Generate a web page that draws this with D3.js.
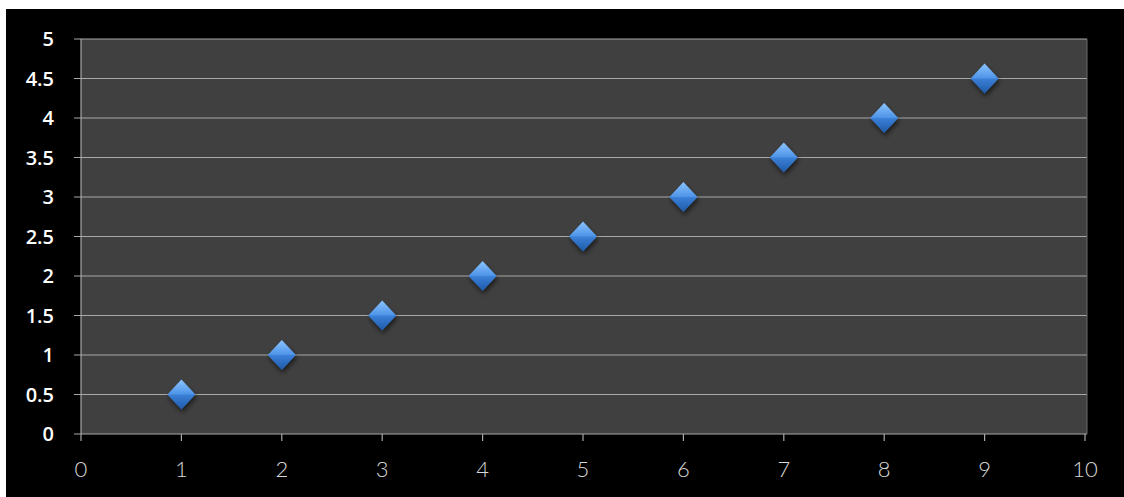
<!DOCTYPE html>
<html><head><meta charset="utf-8">
<script src="https://cdn.jsdelivr.net/npm/d3@7"></script>
<style>body{margin:0;background:#fff;}svg{display:block;}</style>
</head><body>
<svg id="c" width="1124" height="497"></svg>
<script>
const xValues = [1,2,3,4,5,6,7,8,9];
const yValues = [0.5,1,1.5,2,2.5,3,3.5,4,4.5];
const xTicks = [0,1,2,3,4,5,6,7,8,9,10];
const yTicks = [0,0.5,1,1.5,2,2.5,3,3.5,4,4.5,5];

const svg = d3.select("#c");
svg.append("rect").attr("x",6).attr("y",9).attr("width",1118).attr("height",488).attr("fill","#000");

const pL=81, pR=1085, pT=39, pB=434;
const x = d3.scaleLinear().domain([0,10]).range([pL,pR]);
const y = d3.scaleLinear().domain([0,5]).range([pB,pT]);

const defs = svg.append("defs");
const g1 = defs.append("linearGradient").attr("id","dg").attr("x1",0).attr("y1",0).attr("x2",0).attr("y2",1);
g1.append("stop").attr("offset","0%").attr("stop-color","#8cc4ff");
g1.append("stop").attr("offset","48%").attr("stop-color","#4f95e8");
g1.append("stop").attr("offset","52%").attr("stop-color","#3a7fd6");
g1.append("stop").attr("offset","100%").attr("stop-color","#1f5aa8");
const f = defs.append("filter").attr("id","sh").attr("x","-50%").attr("y","-50%").attr("width","200%").attr("height","200%");
f.append("feGaussianBlur").attr("in","SourceAlpha").attr("stdDeviation",2.5).attr("result","b");
f.append("feOffset").attr("in","b").attr("dx",1).attr("dy",3).attr("result","o");
f.append("feComponentTransfer").attr("in","o").attr("result","o2").append("feFuncA").attr("type","linear").attr("slope",0.6);
const m = f.append("feMerge"); m.append("feMergeNode").attr("in","o2"); m.append("feMergeNode").attr("in","SourceGraphic");

svg.append("rect").attr("x",pL).attr("y",pT).attr("width",pR-pL+2).attr("height",pB-pT).attr("fill","#404040");

svg.append("g").selectAll("line").data(yTicks).join("line")
  .attr("x1",pL-7).attr("x2",pR+2).attr("y1",d=>y(d)).attr("y2",d=>y(d))
  .attr("stroke","#a8a8a8").attr("stroke-width",1.2);
svg.append("line").attr("x1",pL).attr("x2",pL).attr("y1",pT).attr("y2",pB).attr("stroke","#a8a8a8").attr("stroke-width",1.2);
svg.append("line").attr("x1",pR+2).attr("x2",pR+2).attr("y1",pT).attr("y2",pB).attr("stroke","#6a6a6a").attr("stroke-width",1);
svg.append("g").selectAll("line").data(xTicks).join("line")
  .attr("x1",d=>x(d)).attr("x2",d=>x(d)).attr("y1",pB).attr("y2",pB+7)
  .attr("stroke","#a8a8a8").attr("stroke-width",1.2);

svg.append("g").selectAll("text").data(yTicks).join("text")
  .attr("x",54).attr("y",d=>y(d)).attr("dy","0.36em").attr("text-anchor","end")
  .attr("fill","#fff").attr("font-family","'Open Sans', sans-serif").attr("font-weight","600").attr("font-size",20)
  .text(d=>d);
svg.append("g").selectAll("text").data(xTicks).join("text")
  .attr("x",d=>x(d)).attr("y",477).attr("text-anchor","middle")
  .attr("fill","#d8d8d8").attr("font-family","Lato, sans-serif").attr("font-weight","300").attr("font-size",22)
  .text(d=>d);

svg.append("g").selectAll("path").data(xValues).join("path")
  .attr("transform",(d,i)=>`translate(${x(d)},${y(yValues[i])})`)
  .attr("d","M0,-15 L14,0 L0,15 L-14,0 Z")
  .attr("fill","url(#dg)").attr("filter","url(#sh)");
</script>
</body></html>
